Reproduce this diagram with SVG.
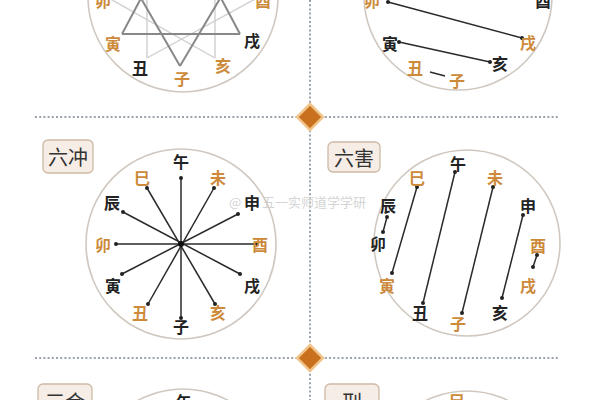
<svg xmlns="http://www.w3.org/2000/svg" width="600" height="400" viewBox="0 0 600 400">
<defs>
<style>
.c{fill:none;stroke:#d0c8c0;stroke-width:1.6}
.k{font-family:"Noto Sans CJK SC","Noto Sans CJK JP",sans-serif;font-size:16px;font-weight:bold;text-anchor:middle;dominant-baseline:central}
.b{fill:#222}
.o{fill:#cc8a3a}
.ln{stroke:#2a2a2a;stroke-width:1.5;fill:none;marker-start:url(#d);marker-end:url(#d)}
.lp{stroke:#2a2a2a;stroke-width:1.5;fill:none}
.dk{stroke:#888888;stroke-width:2;fill:none}
.lt{stroke:#cfcfcf;stroke-width:1.4;fill:none}
.dot{stroke:#9aa3ad;stroke-width:2;stroke-dasharray:2 2.2;fill:none}
.box{fill:#f6ede6;stroke:#cdb9a6;stroke-width:1.3}
.bt{font-family:"Noto Sans CJK SC","Noto Sans CJK JP",sans-serif;font-size:20px;fill:#333;text-anchor:middle;dominant-baseline:central}
.dia{fill:#c8701e;stroke:#f0c48a;stroke-width:2.5}
.wm{font-family:"Noto Sans CJK SC",sans-serif;font-size:13px;fill:#d4d4d4}
</style>
<marker id="d" markerWidth="5" markerHeight="5" refX="2.5" refY="2.5" markerUnits="userSpaceOnUse"><circle cx="2.5" cy="2.5" r="2" fill="#222"/></marker>
</defs>
<rect width="600" height="400" fill="#ffffff"/>

<g id="dividers">
<line class="dot" x1="310" y1="0" x2="310" y2="400"/>
<line class="dot" x1="35" y1="117" x2="560" y2="117"/>
<line class="dot" x1="35" y1="358" x2="560" y2="358"/>
<polygon class="dia" points="310,104 323,117 310,130 297,117"/>
<polygon class="dia" points="310,345 323,358 310,371 297,358"/>
</g>

<g id="watermark">
<text class="wm" x="229" y="207">@</text>
<text class="wm" x="262" y="207">五一实师道学学研</text>
</g>

<g id="circles">
<circle class="c" cx="183" cy="-3" r="95"/>
<circle class="c" cx="458" cy="-4" r="94"/>
<circle class="c" cx="181" cy="244" r="95"/>
<circle class="c" cx="467" cy="243" r="93"/>
<circle class="c" cx="183" cy="484" r="95"/>
<circle class="c" cx="467" cy="484" r="93"/>
</g>

<g id="connectors">
<line class="lt" x1="147" y1="58" x2="147" y2="-60"/>
<line class="lt" x1="215" y1="58" x2="215" y2="-60"/>
<line class="lt" x1="147" y1="58" x2="268" y2="-8"/>
<line class="lt" x1="215" y1="58" x2="98" y2="-8"/>
<line class="dk" x1="122" y1="34" x2="181" y2="-77"/>
<line class="dk" x1="240" y1="34" x2="181" y2="-77"/>
<line class="dk" x1="122" y1="34" x2="240" y2="34"/>
<line class="dk" x1="180" y1="66" x2="112" y2="-52"/>
<line class="dk" x1="180" y1="66" x2="250" y2="-52"/>
<line class="ln" x1="388" y1="2" x2="522" y2="38"/>
<line class="ln" x1="399" y1="42" x2="490" y2="62"/>
<line class="lp" x1="430" y1="72" x2="445" y2="76"/>
<line class="ln" x1="181" y1="178" x2="181" y2="318"/>
<line class="ln" x1="116" y1="244" x2="257" y2="244"/>
<line class="ln" x1="147" y1="188" x2="215" y2="304"/>
<line class="ln" x1="123" y1="212" x2="240" y2="274"/>
<line class="ln" x1="122" y1="274" x2="238" y2="214"/>
<line class="ln" x1="148" y1="304" x2="214" y2="188"/>
<circle cx="181" cy="244" r="3" fill="#111"/>
<line class="ln" x1="387" y1="217" x2="383" y2="232"/>
<line class="ln" x1="417" y1="187" x2="392" y2="273"/>
<line class="ln" x1="455" y1="172" x2="423" y2="303"/>
<line class="ln" x1="493" y1="187" x2="462" y2="313"/>
<line class="ln" x1="523" y1="215" x2="502" y2="298"/>
<line class="ln" x1="537" y1="255" x2="533" y2="267"/>
</g>

<g id="chart-top-left">
<text class="k o" x="103" y="0">卯</text>
<text class="k o" x="263" y="0">酉</text>
<text class="k o" x="113" y="43">寅</text>
<text class="k b" x="252" y="40">戌</text>
<text class="k b" x="140" y="67">丑</text>
<text class="k o" x="223" y="65">亥</text>
<text class="k o" x="182" y="78">子</text>
</g>

<g id="chart-top-right">
<text class="k o" x="372" y="0">卯</text>
<text class="k b" x="543" y="0">酉</text>
<text class="k b" x="390" y="43">寅</text>
<text class="k o" x="528" y="42">戌</text>
<text class="k o" x="415" y="67">丑</text>
<text class="k b" x="500" y="63">亥</text>
<text class="k o" x="457" y="80">子</text>
</g>

<g id="label-liuchong">
<rect class="box" x="43" y="140" width="50" height="33" rx="5"/>
<text class="bt" x="68" y="156.5">六冲</text>
</g>
<g id="chart-liuchong">
<text class="k b" x="181" y="161">午</text>
<text class="k b" x="181" y="326">子</text>
<text class="k o" x="103" y="244">卯</text>
<text class="k o" x="260" y="244">酉</text>
<text class="k o" x="142" y="177">巳</text>
<text class="k o" x="218" y="177">未</text>
<text class="k b" x="112" y="202">辰</text>
<text class="k b" x="252" y="202">申</text>
<text class="k b" x="113" y="285">寅</text>
<text class="k b" x="252" y="285">戌</text>
<text class="k o" x="140" y="312">丑</text>
<text class="k o" x="218" y="312">亥</text>
</g>

<g id="label-liuhai">
<rect class="box" x="328" y="142" width="52" height="30" rx="5"/>
<text class="bt" x="354" y="157">六害</text>
</g>
<g id="chart-liuhai">
<text class="k b" x="458" y="163">午</text>
<text class="k o" x="417" y="177">巳</text>
<text class="k o" x="495" y="177">未</text>
<text class="k b" x="388" y="205">辰</text>
<text class="k b" x="528" y="205">申</text>
<text class="k b" x="378" y="243">卯</text>
<text class="k o" x="538" y="245">酉</text>
<text class="k o" x="387" y="285">寅</text>
<text class="k o" x="528" y="285">戌</text>
<text class="k b" x="420" y="312">丑</text>
<text class="k b" x="500" y="312">亥</text>
<text class="k o" x="458" y="323">子</text>
</g>

<g id="label-sanhe">
<rect class="box" x="38" y="384" width="54" height="32" rx="5"/>
<text class="bt" x="65" y="401">三合</text>
</g>
<g id="chart-sanhe">
<text class="k b" x="184" y="401">午</text>
</g>
<g id="label-xing">
<rect class="box" x="325" y="384" width="54" height="32" rx="5"/>
<text class="bt" x="352" y="401">刑</text>
</g>
<g id="chart-xing">
<text class="k o" x="457" y="400">巳</text>
</g>
</svg>
